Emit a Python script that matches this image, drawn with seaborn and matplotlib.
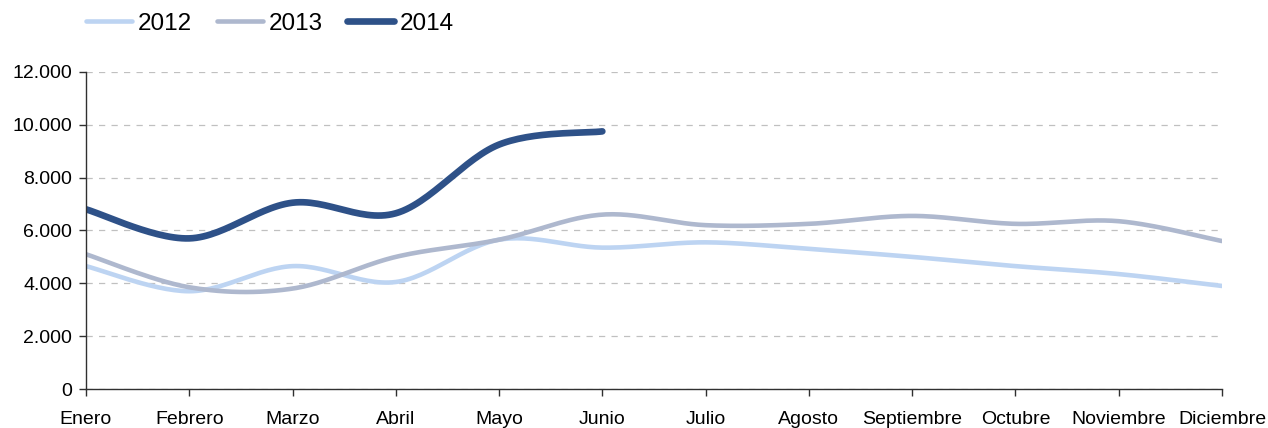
import numpy as np
import pandas as pd
import matplotlib
matplotlib.use('Agg')
import matplotlib.pyplot as plt
import seaborn as sns
from matplotlib.ticker import FuncFormatter

meses = ['Enero', 'Febrero', 'Marzo', 'Abril', 'Mayo', 'Junio', 'Julio',
         'Agosto', 'Septiembre', 'Octubre', 'Noviembre', 'Diciembre']
v2012 = [4650, 3700, 4650, 4050, 5650, 5350, 5550, 5300, 5000, 4650, 4350, 3900]
v2013 = [5100, 3850, 3800, 5000, 5650, 6600, 6200, 6250, 6550, 6250, 6350, 5600]
v2014 = [6800, 5700, 7050, 6650, 9250, 9750]

colores = {'2012': '#BDD4F2', '2013': '#AEB8CE', '2014': '#2E5188'}
grosor = {'2012': 3.3, '2013': 3.3, '2014': 4.8}

sns.set_style('white')
plt.rcParams['font.family'] = ['Liberation Sans', 'DejaVu Sans']


def suavizar(y, n=30):
    # curva suavizada tipo Excel (bezier con puntos de control catmull-rom)
    y = np.asarray(y, dtype=float)
    x = np.arange(len(y), dtype=float)
    xs, ys = [], []
    for i in range(len(y) - 1):
        p0 = np.array([x[max(i - 1, 0)], y[max(i - 1, 0)]])
        p1 = np.array([x[i], y[i]])
        p2 = np.array([x[i + 1], y[i + 1]])
        p3 = np.array([x[min(i + 2, len(y) - 1)], y[min(i + 2, len(y) - 1)]])
        c1 = p1 + (p2 - p0) / 6
        c2 = p2 - (p3 - p1) / 6
        t = np.linspace(0, 1, n)[:, None]
        pts = ((1 - t) ** 3) * p1 + 3 * ((1 - t) ** 2) * t * c1 + 3 * (1 - t) * t ** 2 * c2 + t ** 3 * p2
        xs.extend(pts[:, 0])
        ys.extend(pts[:, 1])
    return xs, ys


filas = []
for anio, vals in [('2012', v2012), ('2013', v2013), ('2014', v2014)]:
    xs, ys = suavizar(vals)
    filas.append(pd.DataFrame({'mes': xs, 'valor': ys, 'anio': anio}))
df = pd.concat(filas, ignore_index=True)

fig = plt.figure(figsize=(12.68, 4.28), dpi=100)
ax = fig.add_axes([0.0678, 0.0911, 0.8959, 0.7409])

for anio in ['2012', '2013', '2014']:
    d = df[df['anio'] == anio]
    sns.lineplot(data=d, x='mes', y='valor', sort=False, color=colores[anio],
                 linewidth=grosor[anio], solid_capstyle='round', label=anio, ax=ax)

ax.set_xlim(0, len(meses) - 1)
ax.set_ylim(0, 12000)
ax.set_xticks(range(len(meses)))
ax.set_xticklabels(meses)
ax.set_yticks(range(0, 12001, 2000))
ax.yaxis.set_major_formatter(FuncFormatter(lambda v, p: f'{int(v):,}'.replace(',', '.')))
ax.set_xlabel('')
ax.set_ylabel('')
ax.yaxis.grid(True, linestyle=(0, (5, 5)), color='#C0C0C0', linewidth=0.9)
ax.set_axisbelow(True)
for s in ['top', 'right']:
    ax.spines[s].set_visible(False)
for s in ['left', 'bottom']:
    ax.spines[s].set_color('#303030')
    ax.spines[s].set_linewidth(1.0)
ax.tick_params(axis='both', which='major', direction='out', length=5, width=1,
               color='#303030', labelsize=14, labelcolor='black', pad=5, left=True, bottom=True)
ax.tick_params(axis='x', pad=11)

leg = ax.legend(loc='center left', bbox_to_anchor=(0.0678, 0.945),
                bbox_transform=fig.transFigure, ncol=3, frameon=False,
                fontsize=17.5, handlelength=1.9, handletextpad=0.25, columnspacing=1.0,
                borderaxespad=0, borderpad=0)
for t in leg.get_texts():
    t.set_color('black')

fig.savefig('out.png', dpi=100)
